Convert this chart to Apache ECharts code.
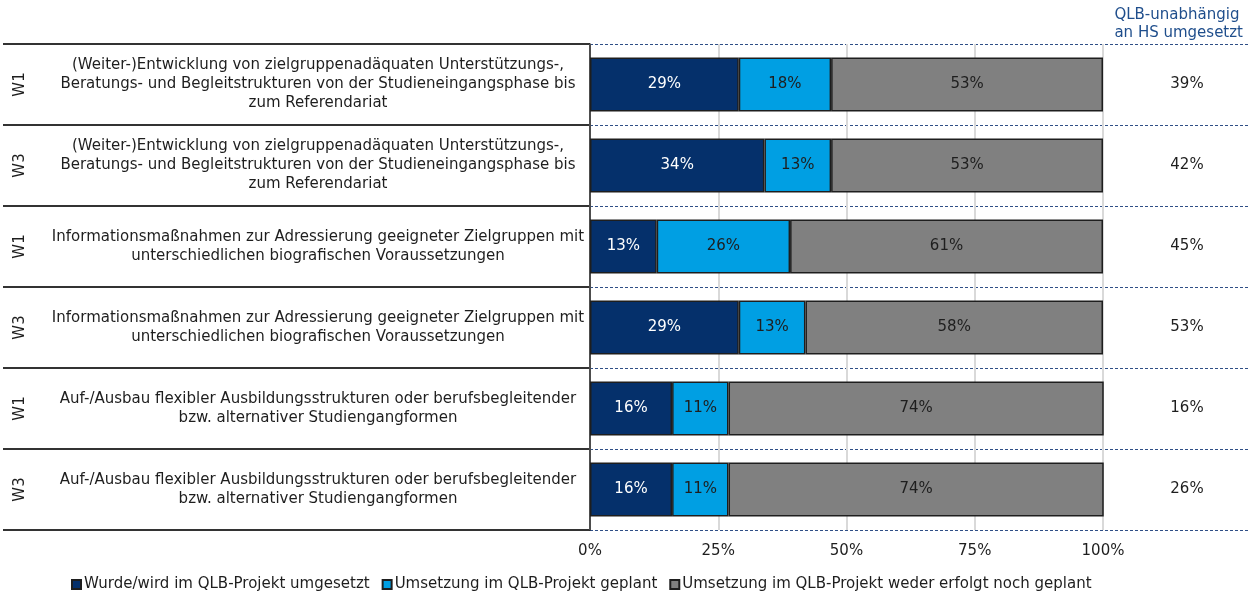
<!DOCTYPE html>
<html>
<head>
<meta charset="utf-8">
<script src="https://cdn.jsdelivr.net/npm/echarts@6/dist/echarts.min.js"></script>
<style>
  html, body { margin: 0; padding: 0; background: #fff; }
  #chart { width: 1252px; height: 598px; }
</style>
</head>
<body>
<div id="chart"></div>
<script>
// Maßnahmen (Zeilen von oben nach unten)
const topics = [
  '(Weiter-)Entwicklung von zielgruppenadäquaten Unterstützungs-,\nBeratungs- und Begleitstrukturen von der Studieneingangsphase bis\nzum Referendariat',
  '(Weiter-)Entwicklung von zielgruppenadäquaten Unterstützungs-,\nBeratungs- und Begleitstrukturen von der Studieneingangsphase bis\nzum Referendariat',
  'Informationsmaßnahmen zur Adressierung geeigneter Zielgruppen mit\nunterschiedlichen biografischen Voraussetzungen',
  'Informationsmaßnahmen zur Adressierung geeigneter Zielgruppen mit\nunterschiedlichen biografischen Voraussetzungen',
  'Auf-/Ausbau flexibler Ausbildungsstrukturen oder berufsbegleitender\nbzw. alternativer Studiengangformen',
  'Auf-/Ausbau flexibler Ausbildungsstrukturen oder berufsbegleitender\nbzw. alternativer Studiengangformen'
]
const waves = ['W1', 'W3', 'W1', 'W3', 'W1', 'W3']

const umgesetzt = [29, 34, 13, 29, 16, 16]
const geplant = [18, 13, 26, 13, 11, 11]
const wederNoch = [53, 53, 61, 58, 74, 74]
const qlbUnabhaengig = [39, 42, 45, 53, 16, 26]

const seriesNames = [
  'Wurde/wird im QLB-Projekt umgesetzt',
  'Umsetzung im QLB-Projekt geplant',
  'Umsetzung im QLB-Projekt weder erfolgt noch geplant'
]
const xTicks = [0, 25, 50, 75, 100]

const FONT = 'DejaVu Sans'
const FS = 15
const myChart = echarts.init(document.getElementById('chart'))

const gridTop = 44
const gridHeight = 486

const barSeries = (name, data, color, labelColor) => ({
  name,
  type: 'bar',
  stack: 'total',
  xAxisIndex: 0,
  yAxisIndex: 0,
  barWidth: 54,
  data,
  itemStyle: { color, borderColor: '#1e1e1e', borderWidth: 1.5 },
  label: {
    show: true,
    position: 'inside',
    formatter: '{c}%',
    color: labelColor,
    fontFamily: FONT,
    fontSize: FS
  },
  emphasis: { disabled: true }
})

const options = {
  animation: false,
  textStyle: { fontFamily: FONT },
  title: {
    text: 'QLB-unabhängig\nan HS umgesetzt',
    right: 4,
    top: 1,
    textStyle: { color: '#1F4E8C', fontSize: FS, fontWeight: 'normal', lineHeight: 18, fontFamily: FONT }
  },
  legend: {
    left: 66,
    top: 572,
    itemWidth: 9,
    itemHeight: 9,
    itemGap: 12,
    icon: 'rect',
    textStyle: { fontSize: FS, color: '#1e1e1e', fontFamily: FONT, padding: [0, 0, 0, -2] },
    data: seriesNames
  },
  grid: [
    { left: 590, width: 513, top: gridTop, height: gridHeight },
    { left: 3, width: 587, top: gridTop, height: gridHeight },
    { left: 590, right: 2, top: gridTop, height: gridHeight }
  ],
  xAxis: [
    {
      type: 'value',
      gridIndex: 0,
      min: 0,
      max: 100,
      interval: 25,
      axisLine: { show: false },
      axisTick: { show: false },
      axisLabel: {
        margin: 14,
        fontSize: FS,
        color: '#1e1e1e',
        fontFamily: FONT,
        formatter: (v) => xTicks.includes(v) ? v + '%' : ''
      },
      splitLine: { show: true, lineStyle: { color: '#d9d9d9', width: 2 } }
    },
    { type: 'value', gridIndex: 1, show: false },
    { type: 'value', gridIndex: 2, show: false }
  ],
  yAxis: [
    {
      type: 'category',
      gridIndex: 0,
      inverse: true,
      data: topics,
      axisLine: { show: true, lineStyle: { color: '#1e1e1e', width: 1.5 } },
      axisTick: { show: false },
      axisLabel: {
        margin: 272,
        align: 'center',
        fontSize: FS,
        lineHeight: 19,
        color: '#1e1e1e',
        fontFamily: FONT
      }
    },
    {
      type: 'category',
      gridIndex: 0,
      inverse: true,
      position: 'left',
      data: waves,
      axisLine: { show: false },
      axisTick: { show: false },
      axisLabel: { rotate: 90, margin: 562, fontSize: FS, color: '#1e1e1e', fontFamily: FONT }
    },
    {
      type: 'category',
      gridIndex: 0,
      inverse: true,
      position: 'right',
      data: qlbUnabhaengig,
      axisLine: { show: false },
      axisTick: { show: false },
      axisLabel: {
        margin: 84,
        align: 'center',
        fontSize: FS,
        color: '#1e1e1e',
        fontFamily: FONT,
        formatter: '{value}%'
      }
    },
    {
      // Tabellenlinien links
      type: 'category',
      gridIndex: 1,
      inverse: true,
      data: waves,
      axisLine: { show: false },
      axisTick: { show: false },
      axisLabel: { show: false },
      splitLine: { show: true, interval: 0, lineStyle: { color: '#333333', width: 2 } }
    },
    {
      // gestrichelte Trennlinien rechts
      type: 'category',
      gridIndex: 2,
      inverse: true,
      data: waves,
      axisLine: { show: false },
      axisTick: { show: false },
      axisLabel: { show: false },
      splitLine: { show: true, interval: 0, lineStyle: { color: '#2F4F86', width: 1, type: [3, 2] } }
    }
  ],
  series: [
    barSeries(seriesNames[0], umgesetzt, '#05306B', '#ffffff'),
    barSeries(seriesNames[1], geplant, '#009FE3', '#1e1e1e'),
    barSeries(seriesNames[2], wederNoch, '#808080', '#1e1e1e')
  ]
}

myChart.setOption(options)
</script>
</body>
</html>
